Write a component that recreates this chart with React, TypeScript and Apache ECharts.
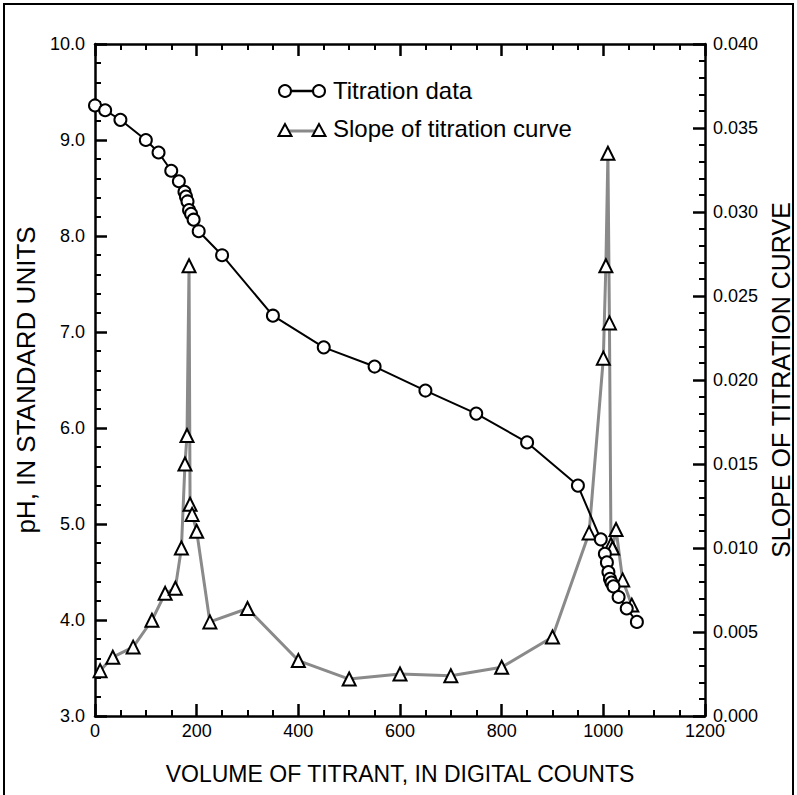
import React, { useEffect, useRef } from "react";
import * as echarts from "echarts";

// Titration data (volume in digital counts, pH)
const titrationVolume = [0, 20, 50, 100, 125, 150, 165, 176, 179, 182, 185, 189, 194, 204, 250, 350, 450, 550, 650, 750, 850, 950, 995, 1003, 1007, 1010, 1013, 1016, 1020, 1030, 1046, 1066];
const titrationPH = [9.36, 9.31, 9.21, 9.0, 8.87, 8.68, 8.57, 8.46, 8.41, 8.36, 8.27, 8.23, 8.17, 8.05, 7.8, 7.17, 6.84, 6.64, 6.39, 6.15, 5.85, 5.4, 4.84, 4.69, 4.6, 4.5, 4.43, 4.39, 4.35, 4.24, 4.12, 3.98];

// Slope of titration curve
const slopeVolume = [10, 35, 75, 112, 138, 158, 170, 177, 181, 185, 187, 191, 200, 226, 300, 400, 500, 600, 700, 800, 900, 972, 1000, 1005, 1009, 1012, 1015, 1018, 1025, 1038, 1056];
const slopeValue = [0.0027, 0.0035, 0.0041, 0.0057, 0.0073, 0.0076, 0.01, 0.015, 0.0167, 0.0268, 0.0126, 0.012, 0.011, 0.0056, 0.0064, 0.0033, 0.0022, 0.0025, 0.0024, 0.0029, 0.0047, 0.0109, 0.0213, 0.0268, 0.0335, 0.0234, 0.0102, 0.01, 0.0111, 0.0081, 0.0066];

const seriesNames = ["Titration data", "Slope of titration curve"];
const xTitle = "VOLUME OF TITRANT, IN DIGITAL COUNTS";
const yLeftTitle = "pH, IN STANDARD UNITS";
const yRightTitle = "SLOPE OF TITRATION CURVE";

const FONT = "'Liberation Sans', Arial, sans-serif";

export default function App() {
  const ref = useRef<HTMLDivElement>(null);
  useEffect(() => {
    if (!ref.current) return;
    const chart = echarts.init(ref.current, undefined, { renderer: "svg" });
    const axisLine = { show: true, onZero: false, lineStyle: { color: "#000", width: 2.5 } };
    const tick = () => ({ show: true, inside: true, length: 12, lineStyle: { color: "#000", width: 2.5 } });
    const minor = (n: number) => ({ show: true, splitNumber: n, length: 6, lineStyle: { color: "#000", width: 2 } });
    const label = { color: "#000", fontSize: 18, fontFamily: FONT };
    const nameStyle = (s: number) => ({ color: "#000", fontSize: s, fontFamily: FONT });

    const tri = (cx: number, cy: number) => ({
      type: "polygon",
      shape: { points: [[cx, cy - 7], [cx - 6.5, cy + 5], [cx + 6.5, cy + 5]] },
      style: { fill: "#fff", stroke: "#000", lineWidth: 2 },
      z: 10,
    });

    chart.setOption({
      animation: false,
      backgroundColor: "#fff",
      grid: { left: 95, right: 92, top: 44, bottom: 79, outerBoundsMode: "none", containLabel: false },
      xAxis: [
        {
          type: "value",
          position: "bottom",
          min: 0,
          max: 1200,
          interval: 200,
          name: xTitle,
          nameLocation: "middle",
          nameGap: 46,
          nameTextStyle: nameStyle(23),
          axisLine,
          axisTick: tick(),
          minorTick: minor(4),
          splitLine: { show: false },
          axisLabel: { ...label, margin: 6, formatter: (v: number) => String(v) },
        },
        {
          type: "value",
          position: "top",
          min: 0,
          max: 1200,
          interval: 200,
          axisLine,
          axisTick: tick(),
          minorTick: minor(4),
          splitLine: { show: false },
          axisLabel: { show: false },
        },
      ],
      yAxis: [
        {
          type: "value",
          position: "left",
          min: 3,
          max: 10,
          interval: 1,
          name: yLeftTitle,
          nameLocation: "middle",
          nameRotate: 90,
          nameGap: 56,
          nameTextStyle: nameStyle(26),
          axisLine,
          axisTick: tick(),
          minorTick: minor(5),
          splitLine: { show: false },
          axisLabel: { ...label, margin: 10, formatter: (v: number) => v.toFixed(1) },
        },
        {
          type: "value",
          position: "right",
          min: 0,
          max: 0.04,
          interval: 0.005,
          name: yRightTitle,
          nameLocation: "middle",
          nameRotate: 90,
          nameGap: 56,
          nameTextStyle: nameStyle(25),
          axisLine,
          axisTick: tick(),
          minorTick: minor(5),
          splitLine: { show: false },
          axisLabel: { ...label, margin: 8, formatter: (v: number) => v.toFixed(3) },
        },
      ],
      series: [
        {
          name: seriesNames[1],
          type: "line",
          xAxisIndex: 0,
          yAxisIndex: 1,
          data: slopeVolume.map((v, i) => [v, slopeValue[i]]),
          symbol: "triangle",
          symbolSize: 13,
          showAllSymbol: true,
          lineStyle: { color: "#8a8a8a", width: 3 },
          itemStyle: { color: "#fff", borderColor: "#000", borderWidth: 2 },
          z: 2,
        },
        {
          name: seriesNames[0],
          type: "line",
          xAxisIndex: 0,
          yAxisIndex: 0,
          data: titrationVolume.map((v, i) => [v, titrationPH[i]]),
          symbol: "circle",
          symbolSize: 12,
          showAllSymbol: true,
          lineStyle: { color: "#000", width: 2 },
          itemStyle: { color: "#fff", borderColor: "#000", borderWidth: 2 },
          z: 3,
        },
      ],
      graphic: [
        {
          type: "rect",
          shape: { x: 4, y: 4, width: 789, height: 820 },
          style: { fill: "none", stroke: "#000", lineWidth: 2 },
          silent: true,
        },
        {
          type: "line",
          shape: { x1: 285, y1: 91, x2: 319, y2: 91 },
          style: { stroke: "#000", lineWidth: 2.5 },
        },
        { type: "circle", shape: { cx: 285, cy: 91, r: 6 }, style: { fill: "#fff", stroke: "#000", lineWidth: 2 }, z: 10 },
        { type: "circle", shape: { cx: 319, cy: 91, r: 6 }, style: { fill: "#fff", stroke: "#000", lineWidth: 2 }, z: 10 },
        {
          type: "text",
          x: 333,
          y: 90,
          style: { text: seriesNames[0], fill: "#000", font: `24px ${FONT}`, verticalAlign: "middle" },
        },
        {
          type: "line",
          shape: { x1: 285, y1: 131, x2: 319, y2: 131 },
          style: { stroke: "#8a8a8a", lineWidth: 3 },
        },
        tri(285, 131),
        tri(319, 131),
        {
          type: "text",
          x: 333,
          y: 128,
          style: { text: seriesNames[1], fill: "#000", font: `24px ${FONT}`, verticalAlign: "middle" },
        },
      ],
    });
    return () => chart.dispose();
  }, []);
  return <div ref={ref} style={{ position: "absolute", left: 0, top: 0, width: 797, height: 795 }} />;
}
